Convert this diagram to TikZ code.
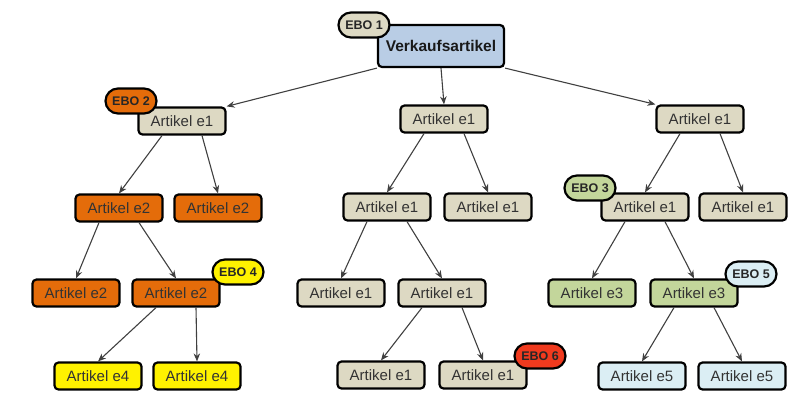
\documentclass[tikz,border=0pt]{standalone}
\usepackage{fontspec}
\setmainfont{Liberation Sans}
\usetikzlibrary{arrows.meta}
\definecolor{tan}{HTML}{DDD9C3}
\definecolor{orng}{HTML}{E46C0A}
\definecolor{yel}{HTML}{FFF200}
\definecolor{grn}{HTML}{C3D69B}
\definecolor{lblue}{HTML}{DBEEF4}
\definecolor{vblue}{HTML}{B9CDE5}
\definecolor{redd}{HTML}{F03A1E}
\tikzset{
  box/.style={draw=black, line width=2.2pt, rounded corners=4pt, minimum width=87pt, minimum height=27pt, inner sep=0pt, font=\fontsize{15}{17}\selectfont, text=black!80},
  badge/.style={draw=black, line width=2.2pt, rounded corners=12.5pt, minimum width=51pt, minimum height=25pt, inner sep=0pt, font=\bfseries\fontsize{12.5}{14}\selectfont, text=black!85},
  arr/.style={-{Stealth[length=8pt,width=6.5pt]}, line width=1.1pt, draw=black!75},
}
\begin{document}
\begin{tikzpicture}[x=1pt,y=-1pt]
\useasboundingbox (0,0) rectangle (802,392);
% root
\node[box, fill=vblue, minimum width=126pt, minimum height=42pt, font=\bfseries\fontsize{15.5}{17}\selectfont, text=black!90] (V) at (441,46) {Verkaufsartikel};
% level 1
\node[box, fill=tan] (L1) at (182,121) {Artikel e1};
\node[box, fill=tan] (M1) at (444,119) {Artikel e1};
\node[box, fill=tan] (R1) at (700,119) {Artikel e1};
% level 2
\node[box, fill=orng] (L2a) at (119,208) {Artikel e2};
\node[box, fill=orng] (L2b) at (218,208) {Artikel e2};
\node[box, fill=tan] (M2a) at (387,207) {Artikel e1};
\node[box, fill=tan] (M2b) at (488,207) {Artikel e1};
\node[box, fill=tan] (R2a) at (645,207) {Artikel e1};
\node[box, fill=tan] (R2b) at (743,207) {Artikel e1};
% level 3
\node[box, fill=orng] (L3a) at (76,293) {Artikel e2};
\node[box, fill=orng] (L3b) at (176,293) {Artikel e2};
\node[box, fill=tan] (M3a) at (341,293) {Artikel e1};
\node[box, fill=tan] (M3b) at (442,293) {Artikel e1};
\node[box, fill=grn] (R3a) at (592,293) {Artikel e3};
\node[box, fill=grn] (R3b) at (694,293) {Artikel e3};
% level 4
\node[box, fill=yel] (L4a) at (98,376) {Artikel e4};
\node[box, fill=yel] (L4b) at (197,376) {Artikel e4};
\node[box, fill=tan] (M4a) at (381,375) {Artikel e1};
\node[box, fill=tan] (M4b) at (483,375) {Artikel e1};
\node[box, fill=lblue] (R4a) at (642,376) {Artikel e5};
\node[box, fill=lblue] (R4b) at (742,376) {Artikel e5};
% edges
\draw[arr] (V.south west) -- (L1.north east);
\draw[arr] (V.south) -- (M1.north);
\draw[arr] (V.south east) -- (R1.north west);
\foreach \p/\a/\b in {L1/L2a/L2b, M1/M2a/M2b, R1/R2a/R2b, L2a/L3a/L3b, M2a/M3a/M3b, R2a/R3a/R3b, L3b/L4a/L4b, M3b/M4a/M4b, R3b/R4a/R4b}{
  \draw[arr] ([xshift=-20pt]\p.south) -- (\a.north);
  \draw[arr] ([xshift=20pt]\p.south) -- (\b.north);
}
% badges
\node[badge, fill=tan] (E1) at (364,25) {EBO 1};
\node[badge, fill=orng] (E2) at (131,101) {EBO 2};
\node[badge, fill=grn] (E3) at (590,188) {EBO 3};
\node[badge, fill=yel] (E4) at (238,272) {EBO 4};
\node[badge, fill=lblue] (E5) at (751,274) {EBO 5};
\node[badge, fill=redd] (E6) at (540,356) {EBO 6};
\end{tikzpicture}
\end{document}
